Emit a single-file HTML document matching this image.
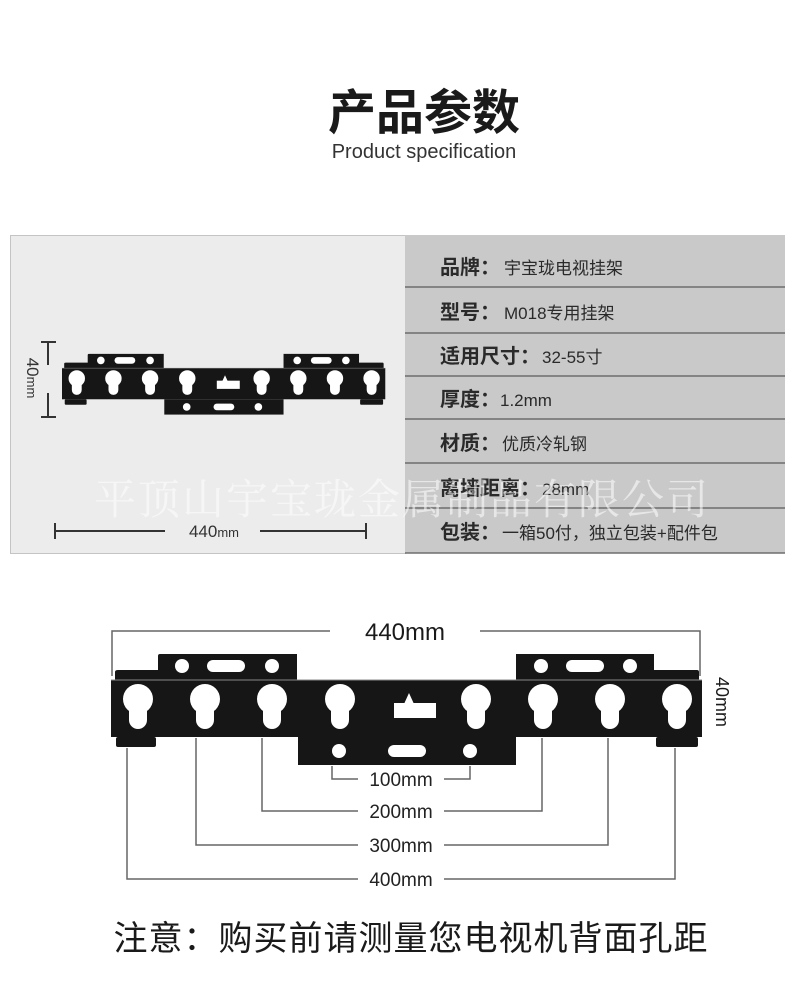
<!DOCTYPE html>
<html><head><meta charset="utf-8"><style>
html,body{margin:0;padding:0;background:#fff;}
body{width:800px;height:1000px;position:relative;overflow:hidden;font-family:"Liberation Sans","Noto Sans CJK SC",sans-serif;}
</style></head><body>
<svg width="800" height="1000" viewBox="0 0 800 1000" xmlns="http://www.w3.org/2000/svg" style="position:absolute;left:0;top:0">
<defs>
<g id="kh"><circle cx="0" cy="0" r="15" fill="#fff"/><rect x="-9" y="0" width="18" height="30" rx="9" fill="#fff"/></g>
<g id="br">
  <path d="M115 680 L115 672 Q115 670 118 670 L158 670 L158 656 Q158 654 160 654 L297 654 L297 680 Z" fill="#161616"/>
  <path d="M516 680 L516 654 L654 654 L654 670 L697 670 Q699 670 699 672 L699 680 Z" fill="#161616"/>
  <rect x="111" y="680" width="591" height="57" fill="#161616"/>
  <rect x="116" y="737" width="40" height="10" rx="2" fill="#161616"/>
  <rect x="656" y="737" width="42" height="10" rx="2" fill="#161616"/>
  <rect x="298" y="737" width="218" height="28" fill="#161616"/>
  <line x1="111" y1="680" x2="702" y2="680" stroke="#888" stroke-width="1"/>
  <circle cx="182" cy="666" r="7" fill="#fff"/><rect x="207" y="660" width="38" height="12" rx="6" fill="#fff"/><circle cx="272" cy="666" r="7" fill="#fff"/>
  <circle cx="541" cy="666" r="7" fill="#fff"/><rect x="566" y="660" width="38" height="12" rx="6" fill="#fff"/><circle cx="630" cy="666" r="7" fill="#fff"/>
  <circle cx="339" cy="751" r="7" fill="#fff"/><rect x="388" y="745" width="38" height="12" rx="6" fill="#fff"/><circle cx="470" cy="751" r="7" fill="#fff"/>
  <use href="#kh" x="138" y="699"/><use href="#kh" x="205" y="699"/><use href="#kh" x="272" y="699"/><use href="#kh" x="340" y="699"/>
  <use href="#kh" x="476" y="699"/><use href="#kh" x="543" y="699"/><use href="#kh" x="610" y="699"/><use href="#kh" x="677" y="699"/>
  <rect x="394" y="703" width="42" height="15" fill="#fff"/><path d="M404 704 L409 693 L414 704 Z" fill="#fff"/>
</g>
</defs>

<text x="424" y="129" font-size="48" font-weight="bold" text-anchor="middle" fill="#1a1a1a" font-family="Noto Sans CJK SC,sans-serif">产品参数</text>
<text x="424" y="158" font-size="20" text-anchor="middle" fill="#333">Product specification</text>

<rect x="10.5" y="235.5" width="395" height="318" fill="#ececec" stroke="#c4c4c4"/>
<rect x="405" y="235" width="380" height="318" fill="#c9c9c9"/>
<g stroke="#6e6e6e" stroke-width="1.5">
<line x1="405" y1="287" x2="785" y2="287"/><line x1="405" y1="333" x2="785" y2="333"/>
<line x1="405" y1="376" x2="785" y2="376"/><line x1="405" y1="419" x2="785" y2="419"/>
<line x1="405" y1="463" x2="785" y2="463"/><line x1="405" y1="508" x2="785" y2="508"/>
<line x1="405" y1="553" x2="785" y2="553"/>
</g>
<g fill="#2a2a2a" font-family="Liberation Sans,Noto Sans CJK SC,sans-serif">
<text x="440" y="274" font-size="20"><tspan font-weight="bold">品牌：</tspan><tspan font-size="17" dx="4">宇宝珑电视挂架</tspan></text>
<text x="440" y="319" font-size="20"><tspan font-weight="bold">型号：</tspan><tspan font-size="17" dx="4">M018专用挂架</tspan></text>
<text x="440" y="363" font-size="20"><tspan font-weight="bold">适用尺寸：</tspan><tspan font-size="17" dx="2">32-55寸</tspan></text>
<text x="440" y="406" font-size="20"><tspan font-weight="bold">厚度：</tspan><tspan font-size="17">1.2mm</tspan></text>
<text x="440" y="450" font-size="20"><tspan font-weight="bold">材质：</tspan><tspan font-size="17" dx="2">优质冷轧钢</tspan></text>
<text x="440" y="495" font-size="20"><tspan font-weight="bold">离墙距离：</tspan><tspan font-size="17" dx="2">28mm</tspan></text>
<text x="440" y="539" font-size="20"><tspan font-weight="bold">包装：</tspan><tspan font-size="17" dx="2">一箱50付，独立包装+配件包</tspan></text>
</g>

<use href="#br" transform="translate(62 367) scale(0.547) translate(-111 -678)"/>
<g stroke="#333" stroke-width="2">
<line x1="48" y1="342" x2="48" y2="365"/><line x1="41" y1="342" x2="56" y2="342"/>
<line x1="48" y1="393" x2="48" y2="417"/><line x1="41" y1="417" x2="56" y2="417"/>
<line x1="55" y1="531" x2="165" y2="531"/><line x1="55" y1="523" x2="55" y2="539"/>
<line x1="260" y1="531" x2="366" y2="531"/><line x1="366" y1="523" x2="366" y2="539"/>
</g>
<text transform="translate(27 378) rotate(90)" font-size="17" fill="#333" text-anchor="middle">40<tspan font-size="13">mm</tspan></text>
<text x="214" y="537" font-size="17" fill="#333" text-anchor="middle">440<tspan font-size="13">mm</tspan></text>

<text x="402" y="514" font-size="42" fill="#fff" fill-opacity="0.55" text-anchor="middle" font-family="Noto Serif CJK SC,serif" letter-spacing="2">平顶山宇宝珑金属制品有限公司</text>

<use href="#br"/>
<g stroke="#666" stroke-width="1.5" fill="none">
<path d="M112 676 L112 631 L330 631"/><path d="M480 631 L700 631 L700 676"/>
<path d="M332 766 L332 779 L358 779"/><path d="M444 779 L470 779 L470 766"/>
<path d="M262 738 L262 811 L358 811"/><path d="M444 811 L542 811 L542 738"/>
<path d="M196 738 L196 845 L358 845"/><path d="M444 845 L608 845 L608 738"/>
<path d="M127 748 L127 879 L358 879"/><path d="M444 879 L675 879 L675 748"/>
</g>
<text x="405" y="640" font-size="24" fill="#1a1a1a" text-anchor="middle">440mm</text>
<text transform="translate(716 702) rotate(90)" font-size="18" fill="#1a1a1a" text-anchor="middle">40mm</text>
<g font-size="19" fill="#222" text-anchor="middle">
<text x="401" y="786">100mm</text><text x="401" y="818">200mm</text>
<text x="401" y="852">300mm</text><text x="401" y="886">400mm</text>
</g>

<text x="411" y="950" font-size="34" fill="#1a1a1a" text-anchor="middle" font-family="Noto Sans CJK SC,sans-serif" letter-spacing="1">注意：购买前请测量您电视机背面孔距</text>
</svg>
</body></html>
